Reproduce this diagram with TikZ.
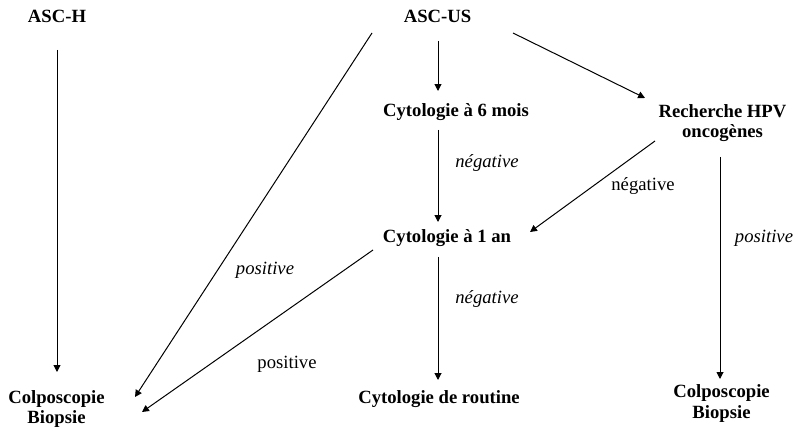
\documentclass[tikz,border=0pt]{standalone}
\usepackage{fontspec}
\setmainfont{Liberation Serif}
\usetikzlibrary{arrows.meta,calc}
\newcommand{\flowsize}{\fontsize{14}{15}\selectfont}
\tikzset{
  stage/.style={font=\flowsize\bfseries, inner sep=0pt, anchor=base, align=center},
  answer/.style={font=\flowsize\itshape, inner sep=0pt, anchor=base},
  plainanswer/.style={font=\flowsize, inner sep=0pt, anchor=base},
  arr/.style={-{Triangle[length=5.2pt,width=5.2pt]}, line width=0.75pt},
}

\begin{document}
\begin{tikzpicture}[x=0.75pt, y=-0.75pt]
  \useasboundingbox (0,0) rectangle (796,427);

  % Top row
  \node[stage] (asch) at (57,23) {ASC-H};
  \node[stage] (ascus) at (437.5,23) {ASC-US};

  % Second row (two-line nodes sit on their last line)
  \node[stage] (cyt6) at (456,117) {Cytologie à 6 mois};
  \node[stage] (hpv) at (722.5,138) {Recherche HPV\\oncogènes};

  % Third row
  \node[stage] (cyt1) at (447,243) {Cytologie à 1 an};

  % Bottom row
  \node[stage] (colpoL) at (56.5,423) {Colposcopie\\Biopsie};
  \node[stage] (routine) at (439,403) {Cytologie de routine};
  \node[stage] (colpoR) at (721.5,418) {Colposcopie\\Biopsie};

  % Results
  \node[answer] (neg1) at (487,168) {négative};
  \node[plainanswer] (neg2) at (643,191) {négative};
  \node[answer] (pos1) at (764,243) {positive};
  \node[answer] (neg3) at (487,304) {négative};
  \node[answer] (pos2) at (265,275) {positive};
  \node[plainanswer] (pos3) at (287,369) {positive};

  % Arrows
  \draw[arr] ($(asch.base)+(0,27)$) -- ($(colpoL.base)+(0.5,-51)$);
  \draw[arr] ($(ascus.base)+(-65.5,10)$) -- ($(colpoL.base)+(78.5,-26)$);
  \draw[arr] ($(ascus.base)+(0.5,18)$) -- ($(cyt6.base)+(-18,-26)$);
  \draw[arr] ($(ascus.base)+(75.5,10)$) -- ($(hpv.base)+(-77.5,-40)$);
  \draw[arr] ($(cyt6.base)+(-18,13)$) -- ($(cyt1.base)+(-9,-21)$);
  \draw[arr] ($(hpv.base)+(-67.5,3)$) -- ($(cyt1.base)+(83,-11)$);
  \draw[arr] ($(hpv.base)+(-2.5,19)$) -- ($(colpoR.base)+(-1.5,-39)$);
  \draw[arr] ($(cyt1.base)+(-74,7)$) -- ($(colpoL.base)+(85.5,-11)$);
  \draw[arr] ($(cyt1.base)+(-9,14)$) -- ($(routine.base)+(-1,-23)$);
\end{tikzpicture}
\end{document}
